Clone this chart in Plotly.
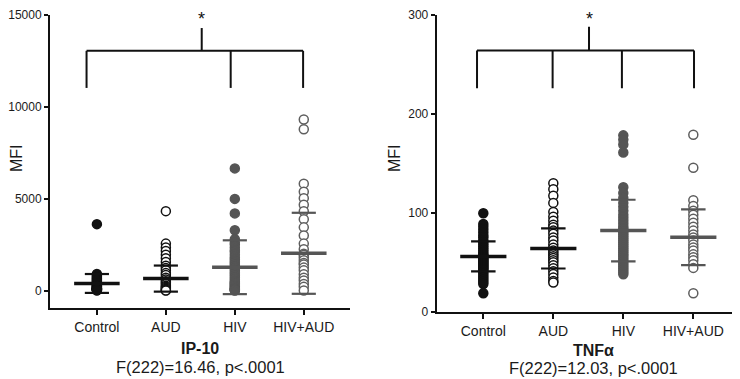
import plotly.graph_objects as go

# The page body adds an 8px margin, so the figure is drawn at (8, 8) inside the 740x379 window.
OFF = 8
W, H = 740 - OFF, 379 - OFF

categories = ["Control", "AUD", "HIV", "HIV+AUD"]

# IP-10 MFI values per group
ip10_control = [3614, 900, 820, 760, 700, 650, 600, 550, 500, 450, 400, 350, 300, 280, 250,
                220, 200, 180, 150, 130, 120, 110, 100, 90, 80, 70, 60, 50, 40, 30, 20, 10]
ip10_aud = [4323, 2556, 2350, 2150, 1950, 1760, 1550, 1350, 1230, 1100, 950, 850, 700, 600,
            500, 420, 350, 265, 200, 150, 100, 50, 20, 0]
ip10_hiv = [6650, 4990, 4200, 3280, 2790, 2600, 2500, 2350, 2200, 2100, 1950, 1800, 1700, 1600,
            1500, 1400, 1300, 1200, 1100, 1000, 900, 800, 700, 600, 500, 450, 400, 350, 300,
            250, 200, 150, 100, 80, 60, 40, 20, 0]
ip10_hivaud = [9312, 8783, 5820, 5380, 5026, 4672, 4320, 3878, 3439, 3000, 2556, 2250, 2000,
               1942, 1800, 1650, 1500, 1413, 1250, 1100, 884, 700, 550, 354, 200, 0]
ip10_mean = [386, 651, 1270, 2028]
ip10_sd = [514, 710, 1465, 2205]
ip10_ticks = [0, 5000, 10000, 15000]
ip10_ticktext = ["0", "5000", "10000", "15000"]

# TNF-alpha MFI values per group
tnf_control = [99.5, 88.7, 86, 83, 80, 77, 75, 72, 70, 68, 66, 64, 62, 60, 58, 57, 56, 55, 54,
               53, 52, 51, 50, 49, 48, 47, 46, 45, 44, 43, 42, 40, 38, 36, 34, 32, 30, 28, 18.7]
tnf_aud = [129.8, 123.8, 117.3, 110, 100.9, 96, 92, 88, 85.4, 82, 78.8, 75, 72, 68, 64.7, 62,
           60, 58, 56, 54.2, 52, 50, 47, 44, 41, 38, 34.5, 31, 29.6]
tnf_hiv = [178.3, 174, 169, 161, 125.8, 120, 115, 110, 106, 102, 98, 95, 92, 89, 86, 84, 82,
           80, 78, 76, 74, 72, 70, 68, 66, 64, 62, 60, 58, 56, 54, 52, 50, 48, 46, 44, 42, 40, 37.8]
tnf_hivaud = [179, 145.5, 112.7, 106.8, 102, 98, 94, 90, 86, 82, 78, 75, 72, 68, 65, 62, 58,
              55, 52, 48, 44.3, 18.7]
tnf_mean = [55.9, 64.0, 82.0, 75.3]
tnf_sd = [15.2, 20.3, 31.2, 28.2]
tnf_ticks = [0, 100, 200, 300]

# significance brackets: bar level, drop level, star-tick top, drop x positions, centre x
ip10_bracket = dict(level=13050, drop=11030, top=14290, xs=[-0.15, 1.94, 2.99], xc=1.52)
tnf_bracket = dict(level=264, drop=226, top=288, xs=[-0.09, 0.99, 1.98, 3.01], xc=1.51)

panel_titles = ["IP-10", "TNFα"]
panel_stats = ["F(222)=16.46, p<.0001", "F(222)=12.03, p<.0001"]


def px(x):  # window x pixel -> paper fraction
    return (x - OFF) / W


def py(y):  # window y pixel -> paper fraction
    return 1 - (y - OFF) / H


FONT = "Liberation Sans, Arial, Helvetica, sans-serif"
BLACK = "#111111"
GRAY = "#555555"
styles = [
    dict(fill=BLACK, line=BLACK, bar=BLACK),
    dict(fill="white", line=BLACK, bar=BLACK),
    dict(fill=GRAY, line=GRAY, bar=GRAY),
    dict(fill="white", line="#5e5e5e", bar=GRAY),
]

fig = go.Figure()

panels = [
    dict(data=[ip10_control, ip10_aud, ip10_hiv, ip10_hivaud], mean=ip10_mean, sd=ip10_sd,
         xa="x", ya="y", br=ip10_bracket),
    dict(data=[tnf_control, tnf_aud, tnf_hiv, tnf_hivaud], mean=tnf_mean, sd=tnf_sd,
         xa="x2", ya="y2", br=tnf_bracket),
]

MEAN_HW = 0.33
SD_HW = 0.175

shapes = []
for p in panels:
    for i, vals in enumerate(p["data"]):
        st = styles[i]
        fig.add_trace(go.Scatter(
            x=[i] * len(vals), y=vals, mode="markers", xaxis=p["xa"], yaxis=p["ya"],
            marker=dict(size=9, color=st["fill"], line=dict(color=st["line"], width=1.5)),
            showlegend=False, hoverinfo="y"))
    for i in range(4):
        st = styles[i]
        m, s = p["mean"][i], p["sd"][i]
        fig.add_trace(go.Scatter(
            x=[i - MEAN_HW, i + MEAN_HW], y=[m, m], mode="lines", xaxis=p["xa"], yaxis=p["ya"],
            line=dict(color=st["bar"], width=3.5), showlegend=False, hoverinfo="skip"))
        for v in (m + s, m - s):
            fig.add_trace(go.Scatter(
                x=[i - SD_HW, i + SD_HW], y=[v, v], mode="lines", xaxis=p["xa"], yaxis=p["ya"],
                line=dict(color=st["bar"], width=2.2), showlegend=False, hoverinfo="skip"))
    br = p["br"]
    lw = dict(color=BLACK, width=2)
    shapes.append(dict(type="line", xref=p["xa"], yref=p["ya"], x0=br["xs"][0], x1=br["xs"][-1],
                       y0=br["level"], y1=br["level"], line=lw))
    for xv in br["xs"]:
        shapes.append(dict(type="line", xref=p["xa"], yref=p["ya"], x0=xv, x1=xv,
                           y0=br["drop"], y1=br["level"], line=lw))
    shapes.append(dict(type="line", xref=p["xa"], yref=p["ya"], x0=br["xc"], x1=br["xc"],
                       y0=br["level"], y1=br["top"], line=lw))

axis_common = dict(showline=True, linecolor=BLACK, linewidth=2, ticks="outside",
                   tickcolor=BLACK, showgrid=False, zeroline=False, automargin=False,
                   ticklabeloverflow="allow")
xtf = dict(family=FONT, size=14, color="#1a1a1a")
ytf = dict(family=FONT, size=12, color="#1a1a1a")

fig.update_layout(
    width=W, height=H, margin=dict(l=0, r=0, t=0, b=0, pad=0, autoexpand=False),
    paper_bgcolor="white", plot_bgcolor="white", showlegend=False,
    font=dict(family=FONT, color="#1a1a1a"),
    shapes=shapes,
    xaxis=dict(domain=[px(50), px(350)], range=[-0.68, 3.67], anchor="y",
               tickmode="array", tickvals=[0, 1, 2, 3], ticktext=categories,
               ticklen=5, tickwidth=1.5, tickfont=xtf, **axis_common),
    yaxis=dict(domain=[py(308), py(15)], range=[-950, 15000], anchor="x",
               tickmode="array", tickvals=ip10_ticks, ticktext=ip10_ticktext,
               ticklen=4, tickwidth=2, tickfont=ytf, **axis_common),
    xaxis2=dict(domain=[px(436.7), 1.0], range=[-0.666, 3.667], anchor="y2",
                tickmode="array", tickvals=[0, 1, 2, 3], ticktext=categories,
                ticklen=5, tickwidth=1.5, tickfont=xtf, **axis_common),
    yaxis2=dict(domain=[py(311.7), py(15)], range=[0, 300], anchor="x2",
                tickmode="array", tickvals=tnf_ticks, ticktext=[str(t) for t in tnf_ticks],
                ticklen=4, tickwidth=2, tickfont=ytf, **axis_common),
)

ann = []
# y-axis titles
for xpx in (17, 395):
    ann.append(dict(text="MFI", xref="paper", yref="paper", x=px(xpx), y=py(158),
                    showarrow=False, textangle=-90, font=dict(size=16, family=FONT, color="#1a1a1a"),
                    xanchor="center", yanchor="middle"))
# panel titles + stats
for k, (cx, ty, sy) in enumerate([(200, 348.5, 367), (593, 350, 368)]):
    ann.append(dict(text="<b>%s</b>" % panel_titles[k], xref="paper", yref="paper", x=px(cx),
                    y=py(ty), showarrow=False, font=dict(size=16, family=FONT, color="#1a1a1a"),
                    xanchor="center", yanchor="middle"))
    ann.append(dict(text=panel_stats[k], xref="paper", yref="paper", x=px(cx), y=py(sy),
                    showarrow=False, font=dict(size=16.5, family=FONT, color="#1a1a1a"),
                    xanchor="center", yanchor="middle"))
# stars
for p in panels:
    ann.append(dict(text="*", xref=p["xa"], yref="paper", x=p["br"]["xc"], y=py(19),
                    showarrow=False, font=dict(size=18, family=FONT, color=BLACK),
                    xanchor="center", yanchor="middle"))
fig.update_layout(annotations=ann)

fig.write_html("out.html")
